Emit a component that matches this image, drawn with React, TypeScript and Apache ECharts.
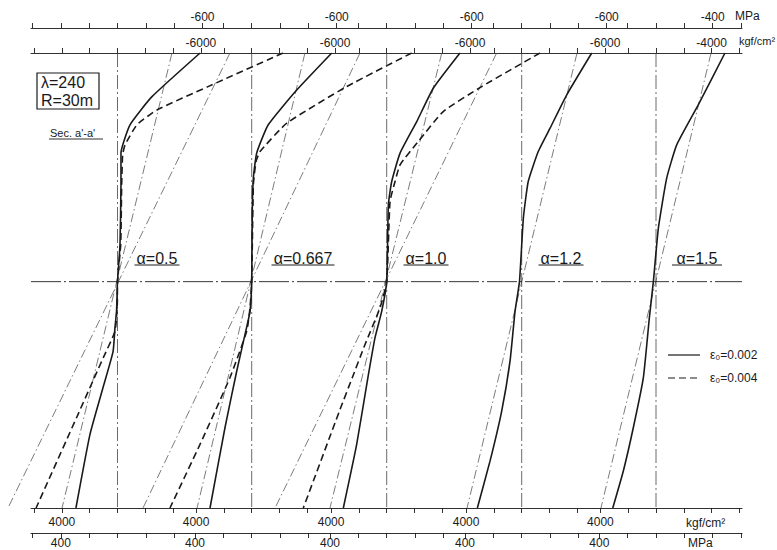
import React, { useEffect, useRef } from 'react';
import * as echarts from 'echarts';

// ---------- DATA (stress in kgf/cm², compression negative; y = relative section height) ----------
const alphaLabels = ['α=0.5', 'α=0.667', 'α=1.0', 'α=1.2', 'α=1.5'];

const a05_e002 = [[-5940, 1.0], [-2480, 0.809], [-900, 0.686], [-250, 0.563], [-250, 0.424], [-180, 0.162], [0, 0], [70, -0.13], [180, -0.2], [320, -0.306], [1040, -0.463], [1980, -0.668], [2990, -0.99]];
const a05_e004 = [[-11910, 1.0], [-6510, 0.853], [-2840, 0.751], [-1400, 0.686], [-540, 0.598], [-370, 0.555], [-300, 0.424], [-230, 0.162], [0, 0], [15, -0.1], [180, -0.217], [1020, -0.332], [2940, -0.594], [5860, -0.99]];
const a0667_e002 = [[-5760, 1.0], [-3240, 0.838], [-1190, 0.686], [-360, 0.563], [-120, 0.454], [-40, 0.307], [0, 0], [120, -0.13], [320, -0.188], [1080, -0.392], [1920, -0.638], [3000, -0.99]];
const a0667_e004 = [[-11510, 1.0], [-6830, 0.853], [-2520, 0.693], [-600, 0.569], [-310, 0.525], [-120, 0.424], [0, 0], [120, -0.114], [360, -0.217], [1560, -0.419], [3720, -0.712], [5880, -0.99]];
const a10_e002 = [[-5270, 1.0], [-3350, 0.846], [-2160, 0.70], [-960, 0.562], [-360, 0.438], [-120, 0.336], [0, 0], [360, -0.13], [840, -0.245], [1350, -0.419], [2160, -0.712], [3120, -0.99]];
const a10_e004 = [[-11030, 1.0], [-6830, 0.853], [-4070, 0.744], [-2270, 0.613], [-960, 0.511], [-600, 0.438], [-240, 0.351], [0, 0], [480, -0.114], [1560, -0.275], [2470, -0.419], [3400, -0.566], [6000, -0.99]];
const a12_e002 = [[-5040, 1.0], [-3240, 0.817], [-2040, 0.671], [-1190, 0.569], [-470, 0.438], [-120, 0.278], [160, 0], [480, -0.13], [840, -0.348], [1440, -0.566], [2280, -0.785], [3190, -0.99]];
const a15_e002 = [[-4960, 1.0], [-3040, 0.773], [-1490, 0.598], [-770, 0.453], [-170, 0.234], [190, 0], [480, -0.159], [910, -0.42], [1630, -0.638], [2350, -0.828], [3110, -0.99]];

// linear (elastic) distributions
const lin_a05_e002 = [[-3920, 1.0], [3990, -0.99]];
const lin_a05_e004 = [[-8090, 1.0], [7880, -0.99]];
const lin_a0667_e002 = [[-3830, 1.0], [3930, -0.99]];
const lin_a0667_e004 = [[-7790, 1.0], [7820, -0.99]];
const lin_a10_e002 = [[-3960, 1.0], [4080, -0.99]];
const lin_a10_e004 = [[-7910, 1.0], [8030, -0.99]];
const lin_a12_e002 = [[-3980, 1.0], [3930, -0.99]];
const lin_a15_e002 = [[-3960, 1.0], [3960, -0.99]];

// tick labels
const topKgfLabels = [-6000, -6000, -6000, -6000, -4000];
const topMpaLabels = [-600, -600, -600, -600, -400];
const botKgfLabels = [4000, 4000, 4000, 4000, 4000];
const botMpaLabels = [400, 400, 400, 400, 400];
const legendLabels = ['ε₀=0.002', 'ε₀=0.004'];

// ---------- LAYOUT ----------
const W = 777;
const S = 0.0139; // px per kgf/cm²
const KGF_PER_MPA = 10.197;
const centers = [117.5, 251.7, 386.7, 521.7, 656];
const topEdges = [31, 205, 340, 475, 609, 742];
const botEdges = [31, 190, 324, 459, 594, 742];
const GRID_TOP = 53;
const GRID_H = 455;
const Y_MIN = -0.99;
const Y_MAX = 1;
const FONT = '"Liberation Sans", Arial, sans-serif';
const INK = '#1a1a1a';

function multiples(min: number, max: number, step: number) {
  const out: number[] = [];
  for (let v = Math.ceil(min / step) * step; v <= max + 1e-9; v += step) out.push(Math.round(v * 1000) / 1000);
  return out;
}

function makeAxis(gridIndex: number, position: string, offset: number, min: number, max: number, step: number, labels: number[], margin: number) {
  return {
    type: 'value', gridIndex, position, offset, inverse: true, min, max,
    axisLine: { show: true, onZero: false, lineStyle: { color: INK, width: 0.9 } },
    axisTick: { show: true, length: 5, customValues: multiples(min, max, step), lineStyle: { color: INK, width: 0.9 } },
    axisLabel: {
      show: true, customValues: labels, margin, color: INK, fontFamily: FONT, fontSize: 12,
      formatter: (v: number) => String(v),
    },
    splitLine: { show: false },
  };
}

export default function App() {
  const ref = useRef<HTMLDivElement>(null);
  useEffect(() => {
    if (!ref.current) return;
    const chart = echarts.init(ref.current, null, { renderer: 'svg' });

    const panels = [
      { solid: a05_e002, dashed: a05_e004, lin: [lin_a05_e002, lin_a05_e004] },
      { solid: a0667_e002, dashed: a0667_e004, lin: [lin_a0667_e002, lin_a0667_e004] },
      { solid: a10_e002, dashed: a10_e004, lin: [lin_a10_e002, lin_a10_e004] },
      { solid: a12_e002, dashed: null, lin: [lin_a12_e002] },
      { solid: a15_e002, dashed: null, lin: [lin_a15_e002] },
    ];

    const grid: any[] = [];
    const xAxis: any[] = [];
    const yAxis: any[] = [];
    const series: any[] = [];

    // grids 0-4: data grids spanning the whole width
    centers.forEach(() => grid.push({ left: 0, width: W, top: GRID_TOP, height: GRID_H }));
    // grids 5-9: top axis segments
    centers.forEach((c, i) => grid.push({ left: topEdges[i], width: topEdges[i + 1] - topEdges[i], top: GRID_TOP, height: GRID_H }));
    // grids 10-14: bottom axis segments
    centers.forEach((c, i) => grid.push({ left: botEdges[i], width: botEdges[i + 1] - botEdges[i], top: GRID_TOP, height: GRID_H }));
    // grid 15: neutral axis line
    grid.push({ left: 31, width: 711, top: GRID_TOP, height: GRID_H });

    // x axes 0-4: data axes (hidden)
    centers.forEach((c, i) => {
      xAxis.push({ type: 'value', gridIndex: i, inverse: true, min: -(W - c) / S, max: c / S, show: false });
    });
    // x axes 5+: visible segment axes
    centers.forEach((c, i) => {
      const tl = topEdges[i], tr = topEdges[i + 1];
      const bl = botEdges[i], br = botEdges[i + 1];
      const tMin = -(tr - c) / S, tMax = (c - tl) / S;
      const bMin = -(br - c) / S, bMax = (c - bl) / S;
      xAxis.push(makeAxis(5 + i, 'top', 0, tMin, tMax, 2000, [topKgfLabels[i]], 4));
      xAxis.push(makeAxis(5 + i, 'top', 25, tMin / KGF_PER_MPA, tMax / KGF_PER_MPA, 200, [topMpaLabels[i]], 5));
      xAxis.push(makeAxis(10 + i, 'bottom', 0, bMin, bMax, 2000, [botKgfLabels[i]], 8));
      xAxis.push(makeAxis(10 + i, 'bottom', 25, bMin / KGF_PER_MPA, bMax / KGF_PER_MPA, 200, [botMpaLabels[i]], 4));
    });
    const hIdx = xAxis.length;
    xAxis.push({ type: 'value', gridIndex: 15, min: 0, max: 1, show: false });

    for (let g = 0; g < 16; g++) {
      yAxis.push({ type: 'value', gridIndex: g, min: Y_MIN, max: Y_MAX, show: false });
    }

    const thin = { color: '#444', width: 0.7, type: [9, 3, 1.5, 3] };
    panels.forEach((p, i) => {
      const base = { type: 'line', xAxisIndex: i, yAxisIndex: i, symbol: 'none', silent: true };
      series.push({ ...base, name: 'center' + i, data: [[0, Y_MAX], [0, Y_MIN]], lineStyle: { color: '#444', width: 0.8, type: [14, 3, 2, 3] } });
      p.lin.forEach((d, k) => series.push({ ...base, name: 'lin' + i + k, data: d, lineStyle: thin }));
      series.push({ ...base, name: 'solid' + i, data: p.solid, smooth: 0.15, lineStyle: { color: INK, width: 1.6, type: 'solid' } });
      if (p.dashed) series.push({ ...base, name: 'dashed' + i, data: p.dashed, smooth: 0.15, lineStyle: { color: INK, width: 1.6, type: [7, 4] } });
    });
    series.push({ type: 'line', xAxisIndex: hIdx, yAxisIndex: 15, symbol: 'none', silent: true, data: [[0, 0], [1, 0]], lineStyle: { color: '#222', width: 0.9, type: [30, 3, 2, 3] } });

    const alphaX = [157, 303, 426, 561, 697];
    const alphaW = [45, 63, 45, 45, 50];
    const graphic: any[] = [];
    const txt = (x: number, y: number, text: string, size: number, align = 'left') => ({
      type: 'text', x, y, style: { text, font: size + 'px ' + FONT, fill: INK, textAlign: align, textVerticalAlign: 'middle' },
    });
    alphaLabels.forEach((t, i) => {
      graphic.push(txt(alphaX[i], 258, t, 16, 'center'));
      graphic.push({ type: 'line', shape: { x1: alphaX[i] - alphaW[i] / 2, y1: 265, x2: alphaX[i] + alphaW[i] / 2, y2: 265 }, style: { stroke: INK, lineWidth: 1 } });
    });
    graphic.push(
      { type: 'rect', shape: { x: 37, y: 73, width: 62, height: 36 }, style: { fill: 'none', stroke: INK, lineWidth: 1.2 } },
      txt(41, 82, 'λ=240', 16),
      txt(41, 100, 'R=30m', 16),
      txt(50, 133, "Sec. a'-a'", 11),
      { type: 'line', shape: { x1: 49, y1: 139, x2: 103, y2: 139 }, style: { stroke: INK, lineWidth: 0.9 } },
      txt(735, 16, 'MPa', 12),
      txt(739, 41, 'kgf/cm²', 11),
      txt(686, 523, 'kgf/cm²', 12),
      txt(688, 543, 'MPa', 12),
      { type: 'line', shape: { x1: 668, y1: 355, x2: 700, y2: 355 }, style: { stroke: INK, lineWidth: 1.2 } },
      txt(710, 355, legendLabels[0], 12),
      { type: 'line', shape: { x1: 668, y1: 378, x2: 700, y2: 378 }, style: { stroke: INK, lineWidth: 1.2, lineDash: [7, 4] } },
      txt(710, 378, legendLabels[1], 12),
    );

    chart.setOption({
      animation: false,
      backgroundColor: '#ffffff',
      grid, xAxis, yAxis, series, graphic,
    });
    return () => chart.dispose();
  }, []);
  return <div ref={ref} style={{ position: 'absolute', left: 0, top: 0, width: W, height: 550, background: '#fff' }} />;
}
